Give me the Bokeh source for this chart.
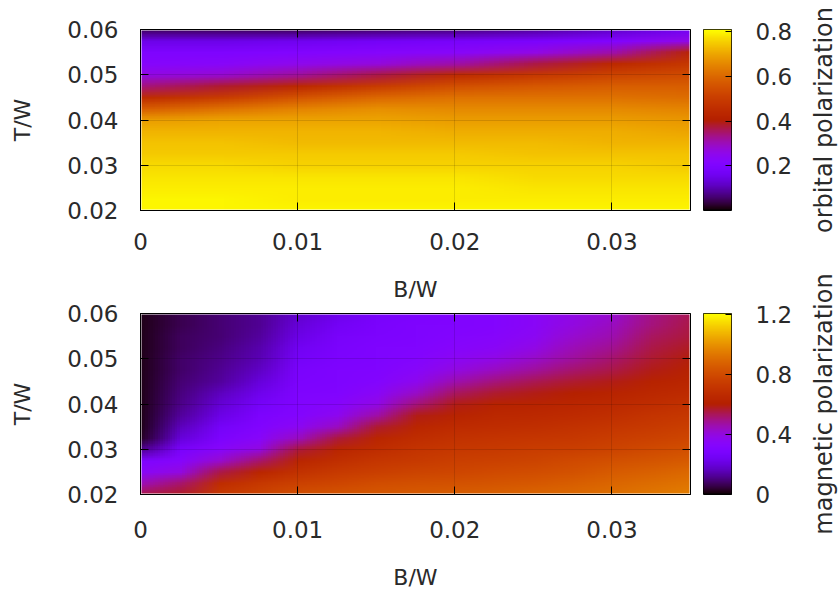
import base64
import struct
import zlib

import numpy as np
from bokeh.plotting import figure
from bokeh.layouts import column, row
from bokeh.models import LinearColorMapper, FixedTicker, LinearAxis
from bokeh.embed import file_html
from bokeh.resources import INLINE

# ---- axes ----
b_ticks = [0, 0.01, 0.02, 0.03]
b_tick_labels = ["0", "0.01", "0.02", "0.03"]
t_ticks = [0.02, 0.03, 0.04, 0.05, 0.06]
t_tick_labels = ["0.02", "0.03", "0.04", "0.05", "0.06"]

# temperature grid (rows, bottom to top), shared by both maps
t_grid = [0.02, 0.0225, 0.025, 0.0275, 0.03, 0.0325, 0.035, 0.0375, 0.04,
          0.0425, 0.045, 0.0475, 0.05, 0.0525, 0.055, 0.0575, 0.06]

# ---- orbital polarization: one profile (over t_grid) per field value ----
orbital_b = [0, 0.005, 0.01, 0.015, 0.02, 0.025, 0.03, 0.035]
orbital_by_b = [
    [0.80, 0.80, 0.79, 0.78, 0.77, 0.75, 0.74, 0.72, 0.69, 0.58, 0.45, 0.34, 0.26, 0.22, 0.20, 0.15, 0.05],
    [0.80, 0.80, 0.79, 0.78, 0.77, 0.75, 0.74, 0.72, 0.70, 0.62, 0.50, 0.38, 0.28, 0.23, 0.20, 0.15, 0.05],
    [0.80, 0.79, 0.79, 0.78, 0.76, 0.75, 0.73, 0.72, 0.70, 0.65, 0.56, 0.44, 0.32, 0.25, 0.21, 0.16, 0.05],
    [0.80, 0.79, 0.79, 0.78, 0.76, 0.75, 0.73, 0.72, 0.70, 0.67, 0.60, 0.50, 0.37, 0.27, 0.22, 0.17, 0.06],
    [0.80, 0.79, 0.79, 0.78, 0.76, 0.75, 0.73, 0.71, 0.69, 0.66, 0.62, 0.55, 0.45, 0.31, 0.23, 0.18, 0.07],
    [0.80, 0.79, 0.78, 0.77, 0.76, 0.74, 0.73, 0.71, 0.69, 0.66, 0.62, 0.57, 0.49, 0.37, 0.26, 0.19, 0.09],
    [0.80, 0.79, 0.78, 0.77, 0.76, 0.74, 0.72, 0.71, 0.69, 0.66, 0.62, 0.58, 0.52, 0.44, 0.31, 0.21, 0.12],
    [0.80, 0.79, 0.78, 0.77, 0.75, 0.74, 0.72, 0.70, 0.68, 0.65, 0.61, 0.58, 0.54, 0.49, 0.43, 0.26, 0.17],
]
orbital_ticks = [0.2, 0.4, 0.6, 0.8]
orbital_tick_labels = ["0.2", "0.4", "0.6", "0.8"]
orbital_range = (0.0, 0.81)

# ---- magnetic polarization ----
magnetic_b = [0, 0.0025, 0.005, 0.0075, 0.01, 0.0125, 0.015, 0.0175, 0.02,
              0.0225, 0.025, 0.0275, 0.03, 0.0325, 0.035]
magnetic_by_b = [
    [0.55, 0.45, 0.35, 0.30, 0.12, 0.03, 0.02, 0.02, 0.02, 0.02, 0.02, 0.02, 0.02, 0.02, 0.02, 0.02, 0.02],
    [0.58, 0.52, 0.40, 0.33, 0.28, 0.20, 0.16, 0.13, 0.11, 0.10, 0.09, 0.08, 0.08, 0.07, 0.07, 0.06, 0.06],
    [0.74, 0.68, 0.55, 0.42, 0.34, 0.29, 0.26, 0.22, 0.19, 0.16, 0.13, 0.12, 0.11, 0.10, 0.09, 0.09, 0.09],
    [0.78, 0.73, 0.64, 0.52, 0.40, 0.34, 0.31, 0.29, 0.26, 0.23, 0.20, 0.17, 0.15, 0.14, 0.13, 0.12, 0.12],
    [0.82, 0.77, 0.70, 0.64, 0.56, 0.44, 0.36, 0.32, 0.31, 0.30, 0.29, 0.28, 0.26, 0.24, 0.22, 0.20, 0.18],
    [0.84, 0.79, 0.74, 0.69, 0.64, 0.56, 0.44, 0.37, 0.33, 0.31, 0.30, 0.30, 0.29, 0.28, 0.27, 0.25, 0.23],
    [0.85, 0.81, 0.76, 0.72, 0.68, 0.64, 0.57, 0.47, 0.39, 0.35, 0.32, 0.31, 0.30, 0.30, 0.29, 0.28, 0.27],
    [0.86, 0.82, 0.78, 0.74, 0.71, 0.68, 0.64, 0.59, 0.51, 0.43, 0.37, 0.34, 0.32, 0.31, 0.30, 0.30, 0.29],
    [0.87, 0.83, 0.79, 0.76, 0.73, 0.70, 0.67, 0.63, 0.59, 0.53, 0.46, 0.40, 0.36, 0.33, 0.32, 0.31, 0.31],
    [0.88, 0.84, 0.80, 0.77, 0.74, 0.71, 0.68, 0.65, 0.62, 0.57, 0.51, 0.44, 0.39, 0.35, 0.33, 0.32, 0.32],
    [0.89, 0.85, 0.81, 0.78, 0.75, 0.72, 0.69, 0.66, 0.63, 0.59, 0.54, 0.48, 0.43, 0.39, 0.36, 0.35, 0.35],
    [0.90, 0.87, 0.83, 0.80, 0.76, 0.73, 0.70, 0.67, 0.64, 0.61, 0.57, 0.52, 0.48, 0.45, 0.42, 0.40, 0.39],
    [0.92, 0.89, 0.86, 0.82, 0.78, 0.75, 0.72, 0.69, 0.66, 0.63, 0.59, 0.55, 0.52, 0.49, 0.46, 0.44, 0.42],
    [0.94, 0.91, 0.88, 0.84, 0.80, 0.77, 0.74, 0.71, 0.68, 0.65, 0.62, 0.59, 0.57, 0.55, 0.53, 0.51, 0.50],
    [0.96, 0.93, 0.90, 0.86, 0.82, 0.79, 0.76, 0.73, 0.70, 0.67, 0.64, 0.62, 0.60, 0.58, 0.56, 0.55, 0.54],
]
magnetic_ticks = [0, 0.4, 0.8, 1.2]
magnetic_tick_labels = ["0", "0.4", "0.8", "1.2"]
magnetic_range = (0.0, 1.21)

FONT = "DejaVu Sans"
TEXT = "#2a2a2a"
FRAME_H = 181


def rgb_formulae_palette(n=256):
    """Classic black-blue-red-yellow map: r=sqrt(t), g=t^3, b=sin(2*pi*t)."""
    out = []
    for i in range(n):
        t = i / (n - 1)
        r = np.sqrt(t)
        g = t ** 3
        b = max(0.0, np.sin(2 * np.pi * t))
        out.append((int(round(r * 255)), int(round(g * 255)), int(round(b * 255))))
    return out


PALETTE_RGB = rgb_formulae_palette()
PALETTE = ["#%02x%02x%02x" % c for c in PALETTE_RGB]


def map_png(values_by_b, lo, hi):
    """Colour the value grid with the palette and encode it as a tiny PNG;
    the browser scales it smoothly over the frame."""
    grid = np.array(values_by_b, dtype=float).T[::-1]  # top row first
    idx = np.clip(np.round((grid - lo) / (hi - lo) * (len(PALETTE_RGB) - 1)), 0,
                  len(PALETTE_RGB) - 1).astype(int)
    h, w = idx.shape
    raw = b"".join(b"\x00" + bytes(v for i in row for v in PALETTE_RGB[i]) for row in idx)

    def chunk(tag, data):
        body = tag + data
        return struct.pack(">I", len(data)) + body + struct.pack(">I", zlib.crc32(body) & 0xFFFFFFFF)

    png = (b"\x89PNG\r\n\x1a\n"
           + chunk(b"IHDR", struct.pack(">IIBBBBB", w, h, 8, 2, 0, 0, 0))
           + chunk(b"IDAT", zlib.compress(raw, 9))
           + chunk(b"IEND", b""))
    return "data:image/png;base64," + base64.b64encode(png).decode()


def style_axis(ax, label_size="23px"):
    ax.major_tick_in = 8
    ax.major_tick_out = 0
    ax.minor_tick_line_color = None
    ax.major_tick_line_color = "black"
    ax.axis_line_color = "black"
    ax.major_label_text_font = FONT
    ax.major_label_text_font_size = label_size
    ax.major_label_text_color = TEXT
    ax.axis_label_text_font = FONT
    ax.axis_label_text_font_size = "22px"
    ax.axis_label_text_font_style = "normal"
    ax.axis_label_text_color = TEXT


def make_map(b_vals, values_by_b, cb_range, border_top, border_bottom,
             tick_standoff, label_standoff):
    p = figure(frame_width=550, frame_height=FRAME_H,
               x_range=(0, 0.035), y_range=(0.02, 0.06),
               min_border_left=140, min_border_right=13,
               min_border_top=border_top, min_border_bottom=border_bottom,
               output_backend="svg", toolbar_location=None,
               background_fill_color="white", border_fill_color=None)

    db = b_vals[1] - b_vals[0]
    dt = t_grid[1] - t_grid[0]
    p.image_url(url=[map_png(values_by_b, cb_range[0], cb_range[1])],
                x=b_vals[0] - db / 2, y=t_grid[-1] + dt / 2,
                w=(b_vals[-1] - b_vals[0]) + db, h=(t_grid[-1] - t_grid[0]) + dt,
                anchor="top_left")

    p.outline_line_color = "black"
    p.outline_line_width = 1

    # faint grid on top of the map
    p.xgrid.ticker = FixedTicker(ticks=b_ticks)
    p.ygrid.ticker = FixedTicker(ticks=t_ticks)
    p.grid.grid_line_color = "black"
    p.grid.grid_line_alpha = 0.12
    p.grid.level = "overlay"

    style_axis(p.xaxis[0])
    style_axis(p.yaxis[0])
    p.xaxis.ticker = FixedTicker(ticks=b_ticks)
    p.xaxis.major_label_overrides = dict(zip(b_ticks, b_tick_labels))
    p.xaxis.axis_label = "B/W"
    p.xaxis.major_label_standoff = tick_standoff
    p.xaxis.axis_label_standoff = label_standoff

    p.yaxis.ticker = FixedTicker(ticks=t_ticks)
    p.yaxis.major_label_overrides = dict(zip(t_ticks, t_tick_labels))
    p.yaxis.axis_label = "T/W"
    p.yaxis.major_label_standoff = 22
    p.yaxis.axis_label_standoff = 29

    # mirrored ticks on the top and right edges
    for side, ticks in (("above", b_ticks), ("right", t_ticks)):
        ax = LinearAxis(ticker=FixedTicker(ticks=ticks), major_tick_in=8, major_tick_out=0,
                        minor_tick_line_color=None, axis_line_color=None,
                        major_label_text_color=None, major_label_text_font_size="1px",
                        major_label_standoff=0)
        p.add_layout(ax, side)
    return p


def make_colorbar(cb_range, cb_ticks, cb_labels, border_top, border_bottom):
    """Vertical colour scale: palette gradient with a labelled axis on its right."""
    lo, hi = cb_range
    c = figure(frame_width=28, frame_height=FRAME_H,
               x_range=(0, 1), y_range=(lo, hi),
               x_axis_location=None, y_axis_location="right",
               min_border_left=0, min_border_right=75,
               min_border_top=border_top, min_border_bottom=border_bottom,
               output_backend="svg", toolbar_location=None,
               background_fill_color=None, border_fill_color=None)
    mapper = LinearColorMapper(palette=PALETTE, low=lo, high=hi)
    ramp = np.linspace(lo, hi, len(PALETTE)).reshape(-1, 1)
    c.image(image=[ramp], x=0, y=lo, dw=1, dh=hi - lo, color_mapper=mapper)
    c.grid.visible = False
    c.outline_line_color = "black"
    c.outline_line_width = 1
    ax = c.yaxis[0]
    style_axis(ax)
    ax.major_tick_in = 6
    ax.axis_line_color = None
    ax.ticker = FixedTicker(ticks=cb_ticks)
    ax.major_label_overrides = dict(zip(cb_ticks, cb_labels))
    ax.major_label_standoff = 24
    return c


def make_side(title, border_top, border_bottom):
    """Narrow strip whose axis label names the colour scale, read upwards."""
    s = figure(frame_width=1, frame_height=FRAME_H,
               x_range=(0, 1), y_range=(0, 1), x_axis_location=None,
               min_border_left=30, min_border_right=3,
               min_border_top=border_top, min_border_bottom=border_bottom,
               output_backend="svg", toolbar_location=None,
               background_fill_color=None, border_fill_color=None)
    s.outline_line_color = None
    s.grid.visible = False
    ax = s.yaxis[0]
    ax.ticker = FixedTicker(ticks=[])
    ax.axis_label = title
    ax.axis_line_color = None
    ax.major_tick_line_color = None
    ax.minor_tick_line_color = None
    ax.major_tick_in = 0
    ax.major_tick_out = 0
    ax.minor_tick_in = 0
    ax.minor_tick_out = 0
    ax.major_label_standoff = 0
    ax.axis_label_standoff = 0
    ax.axis_label_text_font = FONT
    ax.axis_label_text_font_size = "24px"
    ax.axis_label_text_font_style = "normal"
    ax.axis_label_text_color = TEXT
    return s


top_row = row(
    make_map(orbital_b, orbital_by_b, orbital_range, 29, 100, 22, 24),
    make_colorbar(orbital_range, orbital_ticks, orbital_tick_labels, 29, 100),
    make_side("orbital polarization", 29, 100),
    spacing=0)
bottom_row = row(
    make_map(magnetic_b, magnetic_by_b, magnetic_range, 45, 96, 26, 24),
    make_colorbar(magnetic_range, magnetic_ticks, magnetic_tick_labels, 45, 96),
    make_side("magnetic polarization", 45, 96),
    spacing=0)
# let the lower row's canvas reach up under the upper one so its long
# side label has room
bottom_row.margin = (-42, 0, 0, 0)

layout = column(top_row, bottom_row, spacing=0, background="white")
open("out.html", "w").write(file_html(layout, INLINE))
